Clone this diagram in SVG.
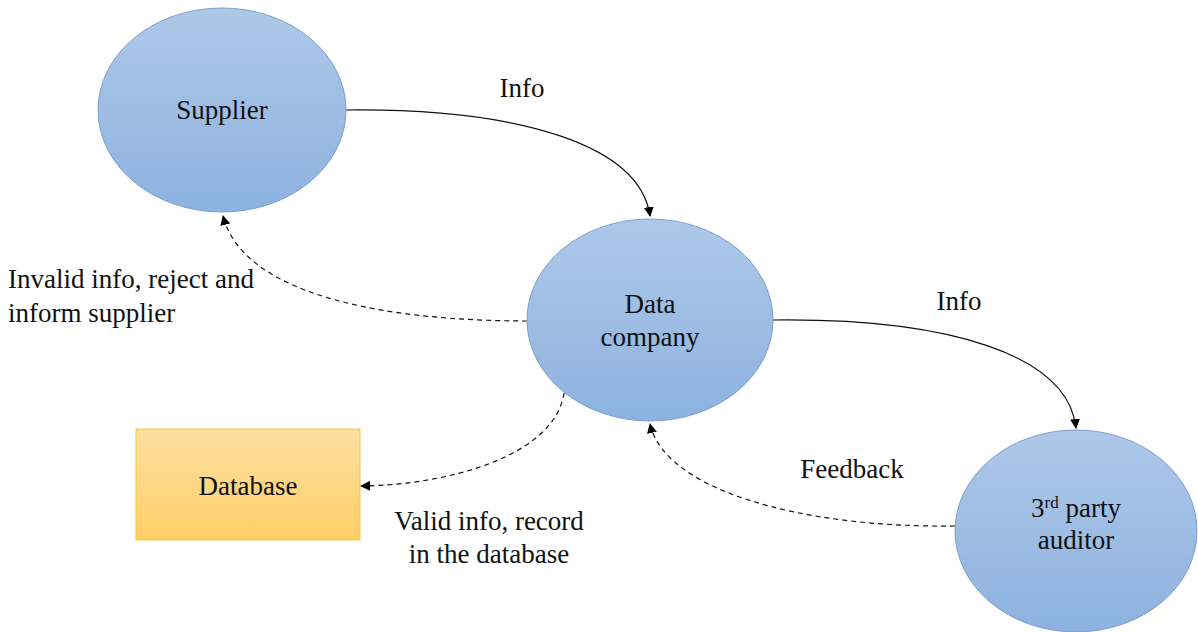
<svg xmlns="http://www.w3.org/2000/svg" width="1198" height="632" viewBox="0 0 1198 632">
  <defs>
    <linearGradient id="blueFill" x1="0" y1="0" x2="0" y2="1">
      <stop offset="0" stop-color="#aec8e8"/>
      <stop offset="1" stop-color="#8db2e0"/>
    </linearGradient>
    <linearGradient id="goldFill" x1="0" y1="0" x2="0" y2="1">
      <stop offset="0" stop-color="#fedfa0"/>
      <stop offset="1" stop-color="#fdcf68"/>
    </linearGradient>
    <marker id="arrow" viewBox="0 0 10 10" refX="9" refY="5" markerWidth="10" markerHeight="10" markerUnits="userSpaceOnUse" orient="auto">
      <path d="M0,0 L10,5 L0,10 z" fill="#000"/>
    </marker>
    <style>
      .proc { fill: url(#blueFill); stroke: #7d9fcb; stroke-width: 1; }
      .store { fill: url(#goldFill); stroke: #f2c54a; stroke-width: 1; }
      text { font-family: 'Liberation Serif', 'Times New Roman', Times, 'DejaVu Serif', serif; font-size: 27px; fill: #111; }
      .mid { text-anchor: middle; }
      .flow { fill: none; stroke: #111; stroke-width: 1.2; marker-end: url(#arrow); }
      .dash { stroke-dasharray: 5 4; }
    </style>
  </defs>
  <rect width="1198" height="632" fill="#fff"/>

  <g id="connectors">
    <path class="flow" d="M345,110 C520,108 640,145 650,216"/>
    <path class="flow dash" d="M527,321 C400,321 245,300 223,216"/>
    <path class="flow" d="M773,320 C950,318 1068,355 1076,428"/>
    <path class="flow dash" d="M564,393 C555,455 450,485 361,486"/>
    <path class="flow dash" d="M955,526 C800,528 665,490 650,424"/>
  </g>

  <g id="flow-labels">
    <text class="mid" x="522" y="97">Info</text>
    <text class="mid" x="959" y="310">Info</text>
    <text x="8" y="288">Invalid info, reject and</text>
    <text x="8" y="322">inform supplier</text>
    <text class="mid" x="489" y="530">Valid info, record</text>
    <text class="mid" x="489" y="563">in the database</text>
    <text class="mid" x="852" y="478">Feedback</text>
  </g>

  <g id="supplier">
    <ellipse class="proc" cx="222" cy="110" rx="124" ry="102"/>
    <text class="mid" x="222" y="119">Supplier</text>
  </g>

  <g id="data-company">
    <ellipse class="proc" cx="650" cy="320" rx="123" ry="101"/>
    <text class="mid" x="650" y="313">Data</text>
    <text class="mid" x="650" y="346">company</text>
  </g>

  <g id="auditor">
    <ellipse class="proc" cx="1076" cy="531" rx="121" ry="101"/>
    <text class="mid" x="1076" y="517">3<tspan font-size="17" dy="-9">rd</tspan><tspan dy="9"> party</tspan></text>
    <text class="mid" x="1076" y="549">auditor</text>
  </g>

  <g id="database">
    <rect class="store" x="136" y="429" width="224" height="111"/>
    <text class="mid" x="248" y="495">Database</text>
  </g>
</svg>
